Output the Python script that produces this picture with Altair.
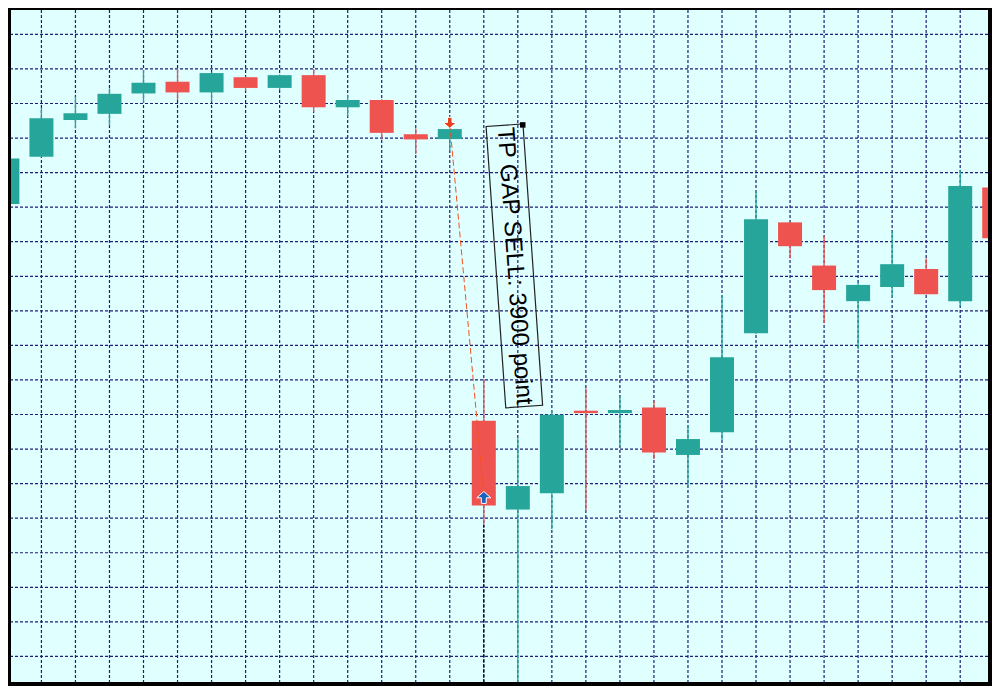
import altair as alt
import pandas as pd

# ---- candle data (index, OHLC in price units) ----
idx = list(range(30))
opens = [41409, 41546, 41652, 41670, 41729, 41763, 41732, 41776, 41745, 41782,
         41689, 41710, 41611, 41597, 40782, 40525, 40572, 40811, 40804, 40820,
         40683, 40749, 41035, 41356, 41231, 41128, 41169, 41221, 41128, 41457]
highs = [41543, 41687, 41720, 41744, 41797, 41799, 41790, 41778, 41784, 41799,
         41725, 41712, 41628, 41633, 40903, 40731, 40813, 40876, 40854, 40840,
         40770, 41146, 41448, 41358, 41317, 41183, 41331, 41252, 41508, 41470]
lows = [41405, 41544, 41628, 41636, 41702, 41710, 41705, 41736, 41739, 41676,
        41662, 41596, 41554, 41563, 40482, 40023, 40468, 40522, 40709, 40671,
        40593, 40726, 41033, 41252, 41064, 40989, 41138, 41148, 41115, 41300]
closes = [41541, 41657, 41672, 41728, 41760, 41732, 41788, 41745, 41782, 41689,
          41710, 41615, 41596, 41626, 40537, 40593, 40799, 40804, 40813, 40690,
          40729, 40966, 41365, 41287, 41160, 41175, 41235, 41148, 41461, 41310]

# grid tick values
x_ticks = list(range(1, 29))
y_ticks = list(range(40000, 42000, 100))

# annotation values
gap_idx = [13, 14]
gap_price = [41641, 40567]
sell_arrow = {"i": [13], "p": [41644]}
buy_arrow = {"i": [14], "p": [40560]}
label_pos = {"i": [14.898], "p": [41230], "label": ["TP GAP SELL: 3900 point"]}
anchor_pos = {"i": [15.145], "p": [41638]}

X_DOMAIN = [0.253, 28.67]
Y_DOMAIN = [40026, 41970.5]

df = pd.DataFrame({"i": idx, "open": opens, "high": highs, "low": lows, "close": closes})
df["dir"] = ["up" if c >= o else "down" for o, c in zip(opens, closes)]

xs = alt.Scale(domain=X_DOMAIN, nice=False, zero=False)
ys = alt.Scale(domain=Y_DOMAIN, nice=False, zero=False)
color = alt.Color("dir:N", scale=alt.Scale(domain=["up", "down"], range=["#26a69a", "#ef5350"]), legend=None)

grid_col = "#1e1e78"
gx = alt.Chart(pd.DataFrame({"g": x_ticks})).mark_rule(
    color=grid_col, strokeDash=[3, 2], strokeWidth=1.2, clip=True
).encode(x=alt.X("g:Q", scale=xs, axis=None))
gy = alt.Chart(pd.DataFrame({"g": y_ticks})).mark_rule(
    color=grid_col, strokeDash=[3, 2], strokeWidth=1.2, clip=True
).encode(y=alt.Y("g:Q", scale=ys, axis=None))
vline = alt.Chart(pd.DataFrame({"g": [gap_idx[1]], "lo": [Y_DOMAIN[0]], "hi": [lows[gap_idx[1]]]})).mark_rule(
    color="black", strokeDash=[3, 2], strokeWidth=1.2, clip=True
).encode(x=alt.X("g:Q", scale=xs, axis=None), y=alt.Y("lo:Q", scale=ys, axis=None), y2="hi:Q")

base = alt.Chart(df)
wicks = base.mark_rule(strokeWidth=1.3, clip=True).encode(
    x=alt.X("i:Q", scale=xs, axis=None),
    y=alt.Y("low:Q", scale=ys, axis=None),
    y2="high:Q",
    color=color,
)
bodies = base.mark_bar(size=24, clip=True).encode(
    x=alt.X("i:Q", scale=xs, axis=None),
    y=alt.Y("open:Q", scale=ys, axis=None),
    y2="close:Q",
    color=color,
)

conn = alt.Chart(pd.DataFrame({"i": gap_idx, "p": gap_price})).mark_line(
    color="#f4511e", strokeDash=[6, 3], strokeWidth=1, clip=True
).encode(x=alt.X("i:Q", scale=xs, axis=None), y=alt.Y("p:Q", scale=ys, axis=None))

down_path = "M-0.35,-0.85 L0.35,-0.85 L0.35,-0.05 L1,-0.05 L0,0.85 L-1,-0.05 L-0.35,-0.05 Z"
up_path = "M-0.35,0.85 L0.35,0.85 L0.35,0.05 L1,0.05 L0,-0.85 L-1,0.05 L-0.35,0.05 Z"
sell = alt.Chart(pd.DataFrame(sell_arrow)).mark_point(
    shape=down_path, size=169, filled=True, fill="#e8401c", stroke="white", strokeWidth=1, opacity=1
).encode(x=alt.X("i:Q", scale=xs, axis=None), y=alt.Y("p:Q", scale=ys, axis=None))
buy = alt.Chart(pd.DataFrame(buy_arrow)).mark_point(
    shape=up_path, size=196, filled=True, fill="#1565c0", stroke="white", strokeWidth=1, opacity=1
).encode(x=alt.X("i:Q", scale=xs, axis=None), y=alt.Y("p:Q", scale=ys, axis=None))

box_path = "M-1,-0.131 L1,-0.131 L1,0.131 L-1,0.131 Z"
box = alt.Chart(pd.DataFrame(label_pos)).mark_point(
    shape=box_path, size=79524, angle=86, filled=False, stroke="#222222", strokeWidth=1.2, opacity=1
).encode(x=alt.X("i:Q", scale=xs, axis=None), y=alt.Y("p:Q", scale=ys, axis=None))
text = alt.Chart(pd.DataFrame(label_pos)).mark_text(
    angle=86, fontSize=24, font="Liberation Sans", align="center", baseline="middle", color="black"
).encode(x=alt.X("i:Q", scale=xs, axis=None), y=alt.Y("p:Q", scale=ys, axis=None), text="label:N")
anchor = alt.Chart(pd.DataFrame(anchor_pos)).mark_square(
    size=30, color="black", opacity=1
).encode(x=alt.X("i:Q", scale=xs, axis=None), y=alt.Y("p:Q", scale=ys, axis=None))

chart = alt.layer(gx, gy, vline, wicks, bodies, conn, sell, buy, box, text, anchor).properties(
    width=977, height=672, background="black",
    padding={"left": 3, "top": 2, "right": 4, "bottom": 4},
).configure_view(fill="#e0ffff", strokeWidth=0)

chart.save("out.html", embed_options={"renderer": "svg", "actions": False})
